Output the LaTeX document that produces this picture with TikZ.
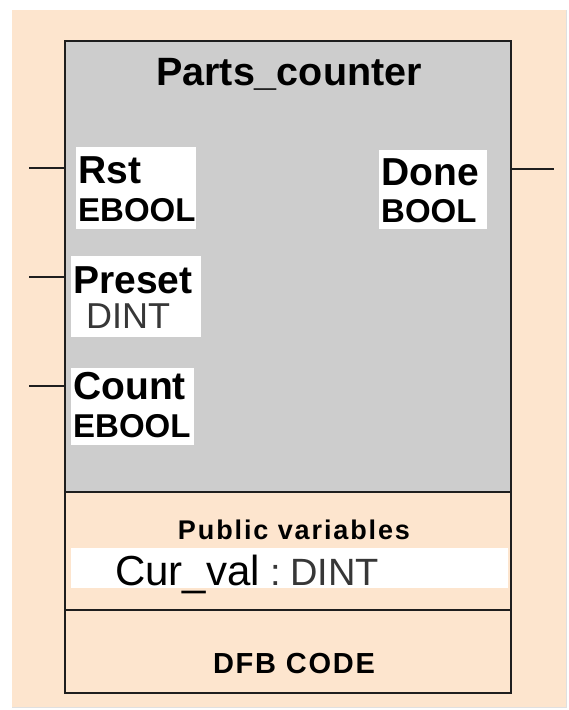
\documentclass[tikz,border=0pt]{standalone}
\usepackage{fontspec}
\setmainfont{Liberation Sans}
\usetikzlibrary{positioning}

\definecolor{peach}{RGB}{253,229,206}
\definecolor{panel}{RGB}{205,205,205}
\definecolor{typegray}{RGB}{55,55,55}
\definecolor{edge}{RGB}{30,30,30}

\tikzset{
  sect/.style={draw=edge, line width=2pt, minimum width=446pt, inner sep=0pt, outer sep=0pt},
  pinbox/.style={fill=white, inner sep=0pt, outer sep=0pt, anchor=north west},
  pinname/.style={font=\bfseries\fontsize{39}{42}\selectfont, anchor=base west, inner sep=0pt},
  pintype/.style={font=\bfseries\fontsize{33}{36}\selectfont, anchor=base west, inner sep=0pt},
  wire/.style={line width=2pt, draw=edge}
}

\begin{document}
\begin{tikzpicture}[x=1pt,y=-1pt]
  \useasboundingbox (0,0) rectangle (569,710);
  \fill[peach] (12,10) rectangle (566,707);
  \draw[black!12, line width=1pt] (566,10) -- (566,707) -- (12,707);

  % function block: body, public variables, code
  \node[sect, fill=panel, minimum height=451pt, anchor=north west] (body) at (65,41) {};
  \node[sect, fill=peach, minimum height=118pt, below=0pt of body] (vars) {};
  \node[sect, fill=peach, minimum height=83pt, below=0pt of vars] (code) {};

  \node[font=\bfseries\fontsize{39.5}{42}\selectfont, anchor=base] (title) at (289,85) {Parts\_counter};

  % inputs
  \node[pinbox, minimum width=120pt, minimum height=82pt] (rst box) at (76,147) {};
  \node[pinname] (rst) at (78,183) {Rst};
  \node[pintype] (rst type) at (78,221) {EBOOL};

  \node[pinbox, minimum width=130pt, minimum height=81pt] (preset box) at (71,256) {};
  \node[pinname] (preset) at (73,293) {Preset};
  \node[font=\fontsize{36}{38}\selectfont, text=typegray, anchor=base west, inner sep=0pt] (preset type) at (86,328) {DINT};

  \node[pinbox, minimum width=123pt, minimum height=77pt] (count box) at (71,368) {};
  \node[pinname] (count) at (73,399) {Count};
  \node[pintype] (count type) at (73,437) {EBOOL};

  % output
  \node[pinbox, minimum width=108pt, minimum height=79pt] (done box) at (379,150) {};
  \node[pinname] (done) at (381,185) {Done};
  \node[pintype] (done type) at (381,222) {BOOL};

  \coordinate (rst in) at (29,168);
  \coordinate (preset in) at (29,277);
  \coordinate (count in) at (29,386);
  \coordinate (done out) at (554,169);
  \draw[wire] (rst in) -- (rst in -| body.west);
  \draw[wire] (preset in) -- (preset in -| body.west);
  \draw[wire] (count in) -- (count in -| body.west);
  \draw[wire] (done out -| body.east) -- (done out);

  % public variables
  \node[font=\bfseries\fontsize{27}{30}\selectfont\addfontfeature{LetterSpace=7}, anchor=base] (vars title) at (294,539) {Public variables};
  \node[pinbox, minimum width=437pt, minimum height=40pt] (band) at (71,548) {};
  \node[font=\fontsize{42}{44}\selectfont, anchor=base west, inner sep=0pt] (cur val) at (115,585) {Cur\_val};
  \node[font=\fontsize{38}{42}\selectfont, text=typegray, anchor=base, inner sep=0pt] (colon) at (276,585) {:};
  \node[font=\fontsize{38}{42}\selectfont, text=typegray, anchor=base west, inner sep=0pt] (cur type) at (290,585) {DINT};

  % code section
  \node[font=\bfseries\fontsize{29}{32}\selectfont\addfontfeature{LetterSpace=6}, anchor=base] (code title) at (294,673) {DFB CODE};
\end{tikzpicture}
\end{document}
